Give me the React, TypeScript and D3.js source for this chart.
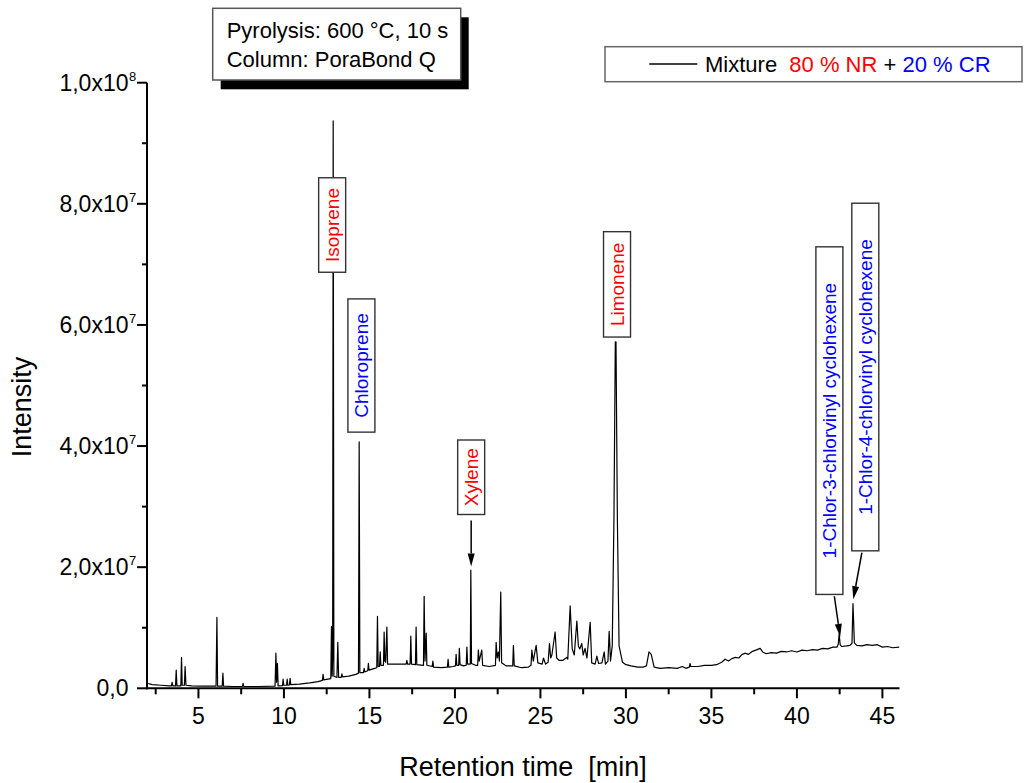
import React from 'react';
import * as d3 from 'd3';

const W = 1028;
const H = 783;
const FONT = "'Liberation Sans', Arial, Helvetica, sans-serif";

// Chromatogram vertices: [retention time (min), intensity (x10^6 counts)]
const trace2to11: [number, number][] = [
  [2.06, 0.8], [2.3, 0.6], [2.8, 0.5], [3.3, 0.4], [3.42, 0.4], [3.46, 1.0], [3.5, 0.4],
  [3.66, 0.4], [3.70, 3.0], [3.74, 0.4], [3.97, 0.4], [4.01, 5.1], [4.05, 0.5],
  [4.18, 0.5], [4.22, 3.6], [4.27, 0.5], [4.6, 0.4], [5.2, 0.35], [6.03, 0.35],
  [6.08, 11.7], [6.12, 0.35], [6.39, 0.35], [6.43, 2.5], [6.47, 0.35], [7.0, 0.3],
  [7.57, 0.3], [7.61, 0.8], [7.65, 0.3], [8.5, 0.3], [9.48, 0.35], [9.53, 5.8],
  [9.57, 1.0], [9.62, 4.1], [9.66, 0.4], [9.92, 0.45], [9.95, 1.5], [9.99, 0.5],
  [10.15, 0.5], [10.19, 1.5], [10.23, 0.5], [10.32, 0.55], [10.36, 1.65], [10.4, 0.6],
  [10.9, 0.7],
];

const trace11to20: [number, number][] = [
  [11.5, 0.9], [12.0, 1.1], [12.25, 1.3], [12.29, 2.3], [12.33, 1.4], [12.74, 1.6],
  [12.78, 10.2], [12.82, 2.0], [12.85, 5.0], [12.88, 93.7], [12.92, 2.0], [13.1, 1.8],
  [13.15, 7.6], [13.2, 1.8], [13.35, 1.8], [13.39, 2.4], [13.43, 1.9], [13.8, 2.0],
  [14.2, 2.3], [14.36, 2.5], [14.40, 40.7], [14.44, 2.6], [14.65, 2.6], [14.69, 3.3],
  [14.73, 2.7], [14.9, 2.9], [14.94, 4.1], [14.98, 3.0], [15.3, 3.3], [15.43, 3.4],
  [15.47, 11.9], [15.51, 3.6], [15.59, 3.6], [15.63, 6.0], [15.67, 3.8], [15.82, 3.8],
  [15.86, 9.3], [15.9, 4.5], [15.95, 4.3], [16.02, 10.1], [16.06, 4.0], [16.5, 4.0],
  [17.0, 4.0], [17.15, 4.0], [17.19, 4.6], [17.23, 4.0], [17.38, 4.0], [17.42, 8.6],
  [17.46, 4.0], [17.69, 3.9], [17.73, 10.1], [17.77, 3.9], [18.16, 3.8], [18.20, 15.2],
  [18.25, 4.5], [18.32, 9.1], [18.36, 3.8], [18.67, 3.6], [18.71, 4.5], [18.75, 3.5],
  [19.2, 3.4], [19.56, 3.5], [19.6, 4.8], [19.64, 3.5], [19.9, 3.6], [20.03, 3.7],
  [20.07, 5.6], [20.11, 3.8],
];

const trace20to30: [number, number][] = [
  [20.22, 3.8], [20.26, 6.6], [20.3, 3.9], [20.5, 3.7], [20.66, 3.8], [20.70, 6.8],
  [20.74, 4.0], [20.9, 4.0], [20.93, 19.5], [20.97, 4.1], [21.2, 3.8], [21.33, 3.8],
  [21.37, 6.3], [21.42, 4.5], [21.57, 6.3], [21.62, 3.8], [22.0, 3.6], [22.37, 3.8],
  [22.41, 7.6], [22.47, 5.0], [22.54, 6.0], [22.6, 4.5], [22.68, 15.9], [22.73, 4.2],
  [23.0, 3.7], [23.38, 3.7], [23.42, 7.1], [23.47, 3.7], [23.9, 3.4], [24.3, 3.5],
  [24.45, 3.8], [24.5, 6.3], [24.58, 4.5], [24.75, 7.1], [24.85, 4.2], [25.1, 4.0],
  [25.18, 5.0], [25.3, 4.0], [25.45, 4.3], [25.53, 7.4], [25.6, 5.0], [25.67, 5.5],
  [25.86, 9.3], [25.95, 5.0], [26.1, 4.6], [26.3, 4.6], [26.54, 5.1], [26.6, 4.8],
  [26.74, 13.6], [26.86, 6.5], [26.98, 5.5], [27.13, 11.1], [27.22, 7.0], [27.3, 6.5],
  [27.42, 7.4], [27.5, 5.5], [27.61, 6.6], [27.72, 5.0], [27.91, 10.9], [28.0, 4.2],
  [28.2, 4.0], [28.3, 5.3], [28.4, 4.1], [28.6, 4.2], [28.73, 6.0], [28.8, 4.0],
  [28.95, 4.5], [29.02, 9.4], [29.1, 4.5], [29.2, 7.0], [29.3, 28.0], [29.38, 57.2],
  [29.42, 57.2], [29.5, 28.0], [29.6, 7.0], [29.8, 4.3], [30.0, 3.9],
];

const trace30to46: [number, number][] = [
  [30.3, 3.7], [30.7, 3.5], [31.0, 3.5], [31.2, 3.7], [31.35, 6.0], [31.48, 5.6],
  [31.65, 3.5], [32.0, 3.3], [32.5, 3.4], [33.0, 3.3], [33.3, 3.6], [33.5, 3.3],
  [33.71, 3.5], [33.75, 4.1], [33.79, 3.6], [34.2, 3.6], [34.6, 3.8], [35.0, 3.8],
  [35.3, 3.9], [35.6, 4.3], [35.8, 4.8], [36.0, 4.5], [36.2, 4.9], [36.4, 5.1],
  [36.6, 5.0], [36.8, 5.6], [37.0, 5.8], [37.15, 5.6], [37.4, 6.1], [37.6, 6.3],
  [37.85, 6.6], [38.0, 6.0], [38.2, 5.7], [38.5, 5.9], [38.8, 5.8], [39.1, 6.1],
  [39.4, 6.0], [39.7, 6.2], [40.0, 6.0], [40.3, 6.3], [40.6, 6.2], [40.9, 6.4],
  [41.2, 6.3], [41.5, 6.6], [41.8, 6.5], [42.1, 6.8], [42.35, 6.8], [42.42, 7.3],
  [42.47, 9.0], [42.53, 7.2], [42.62, 6.9], [42.9, 7.0], [43.1, 7.1], [43.22, 7.4],
  [43.28, 14.0], [43.36, 7.5], [43.5, 7.1], [43.8, 7.0], [44.1, 7.2], [44.4, 7.1],
  [44.7, 7.2], [45.0, 6.8], [45.3, 6.9], [45.6, 6.7], [45.98, 6.8],
];

const xMajorTicks = [5, 10, 15, 20, 25, 30, 35, 40, 45];
const xMinorTicks = [2.5, 7.5, 12.5, 17.5, 22.5, 27.5, 32.5, 37.5, 42.5];
const yMajorTicks = [0, 20, 40, 60, 80, 100];
const yMinorTicks = [10, 30, 50, 70, 90];
const yTickMantissa = ['0,0', '2,0x10', '4,0x10', '6,0x10', '8,0x10', '1,0x10'];
const yTickExponent = ['', '7', '7', '7', '7', '8'];

const peakNames = ['Isoprene', 'Chloroprene', 'Xylene', 'Limonene', '1-Chlor-3-chlorvinyl cyclohexene', '1-Chlor-4-chlorvinyl cyclohexene'];
const peakColors = ['#ff0000', '#0000ff', '#ff0000', '#ff0000', '#0000ff', '#0000ff'];
const labelTime = [12.82, 14.53, 20.95, 29.48, 41.9, 44.0];
const labelTop = [84.3, 64.3, 41.0, 75.4, 72.9, 80.1];
const labelBottom = [68.7, 42.3, 28.7, 58.0, 15.5, 22.7];

// arrows: [t0, i0, t1, i1]
const arrowSpecs: [number, number, number, number][] = [
  [20.95, 27.7, 20.95, 20.1],
  [42.19, 15.2, 42.53, 8.5],
  [43.8, 22.4, 43.3, 14.7],
];

const infoLines = ['Pyrolysis: 600 °C, 10 s', 'Column: PoraBond Q'];

export default function App() {
  const x = d3.scaleLinear().domain([2.05, 46]).range([148, 899.5]);
  const y = d3.scaleLinear().domain([0, 100]).range([688.3, 82.7]);
  const trace = [...trace2to11, ...trace11to20, ...trace20to30, ...trace30to46];
  const line = d3.line<[number, number]>().x((d) => x(d[0])).y((d) => y(d[1]));
  const x0 = x.range()[0];
  const y0 = y.range()[0];

  const arrowPaths = arrowSpecs.map(([t0, i0, t1, i1]) => {
    const ax = x(t0), ay = y(i0), bx = x(t1), by = y(i1);
    const ang = Math.atan2(by - ay, bx - ax);
    const L = 13, Wd = 3.5;
    const px = bx - L * Math.cos(ang), py = by - L * Math.sin(ang);
    const nx = -Math.sin(ang), ny = Math.cos(ang);
    return {
      ax, ay, px, py,
      head: `${bx},${by} ${px + nx * Wd},${py + ny * Wd} ${px - nx * Wd},${py - ny * Wd}`,
    };
  });

  return (
    <svg width={W} height={H} style={{ position: 'absolute', left: 0, top: 0, background: '#fff' }} fontFamily={FONT}>
      <rect x={0} y={0} width={W} height={H} fill="#fff" />
      {/* chromatogram */}
      <path d={line(trace) || ''} fill="none" stroke="#000" strokeWidth={1.2} strokeLinejoin="round" />

      {/* axes */}
      <line x1={x0 - 1} x2={x0 - 1} y1={y(100)} y2={y0 + 1} stroke="#000" strokeWidth={2} />
      <line x1={x0 - 2} x2={x(46)} y1={y0} y2={y0} stroke="#000" strokeWidth={2} />
      {yMajorTicks.map((v, i) => (
        <g key={'ym' + v}>
          <line x1={x0 - 11} x2={x0 - 1} y1={y(v)} y2={y(v)} stroke="#000" strokeWidth={2} />
          <text x={128.5} y={y(v) + 8} fontSize={23} textAnchor="end" fill="#000">{yTickMantissa[i]}</text>
          {yTickExponent[i] && (
            <text x={129} y={y(v) - 2} fontSize={13} textAnchor="start" fill="#000">{yTickExponent[i]}</text>
          )}
        </g>
      ))}
      {yMinorTicks.map((v) => (
        <line key={'yn' + v} x1={x0 - 6} x2={x0 - 1} y1={y(v)} y2={y(v)} stroke="#000" strokeWidth={2} />
      ))}
      {xMajorTicks.map((v) => (
        <g key={'xm' + v}>
          <line x1={x(v)} x2={x(v)} y1={y0} y2={y0 + 10} stroke="#000" strokeWidth={2} />
          <text x={x(v)} y={724} fontSize={23} textAnchor="middle" fill="#000">{v}</text>
        </g>
      ))}
      {xMinorTicks.map((v) => (
        <line key={'xn' + v} x1={x(v)} x2={x(v)} y1={y0} y2={y0 + 6} stroke="#000" strokeWidth={2} />
      ))}

      {/* axis titles */}
      <text transform="translate(31,407) rotate(-90)" fontSize={27} textAnchor="middle" fill="#000">Intensity</text>
      <text x={523} y={776} fontSize={27} textAnchor="middle" fill="#000" style={{ whiteSpace: 'pre' }}>{'Retention time  [min]'}</text>

      {/* peak labels */}
      {peakNames.map((name, i) => {
        const cx = x(labelTime[i]);
        const top = y(labelTop[i]);
        const bot = y(labelBottom[i]);
        return (
          <g key={name}>
            <rect x={cx - 13.5} y={top} width={27} height={bot - top} fill="#fff" stroke="#333" strokeWidth={1.4} />
            <text transform={`translate(${cx + 7},${(top + bot) / 2}) rotate(-90)`} fontSize={19} textAnchor="middle" fill={peakColors[i]}>{name}</text>
          </g>
        );
      })}
      {arrowPaths.map((a, i) => (
        <g key={'ar' + i}>
          <line x1={a.ax} y1={a.ay} x2={a.px} y2={a.py} stroke="#000" strokeWidth={1.5} />
          <polygon points={a.head} fill="#000" />
        </g>
      ))}

      {/* info box */}
      <rect x={220.7} y={17.3} width={248} height={72} fill="#000" />
      <rect x={212.7} y={8.3} width={248} height={71.7} fill="#fff" stroke="#555" strokeWidth={1.5} />
      {infoLines.map((s, i) => (
        <text key={s} x={226.7} y={38.3 + i * 28.4} fontSize={22} fill="#000">{s}</text>
      ))}

      {/* legend */}
      <rect x={605} y={46.7} width={417} height={35} fill="#fff" stroke="#666" strokeWidth={1.5} />
      <line x1={649.3} x2={697.3} y1={64} y2={64} stroke="#000" strokeWidth={1.3} />
      <text x={705} y={72.3} fontSize={22} fill="#000" style={{ whiteSpace: 'pre' }}>
        <tspan>{'Mixture  '}</tspan>
        <tspan fill="#ff0000">{'80 % NR'}</tspan>
        <tspan>{' + '}</tspan>
        <tspan fill="#0000ff">{'20 % CR'}</tspan>
      </text>
    </svg>
  );
}
